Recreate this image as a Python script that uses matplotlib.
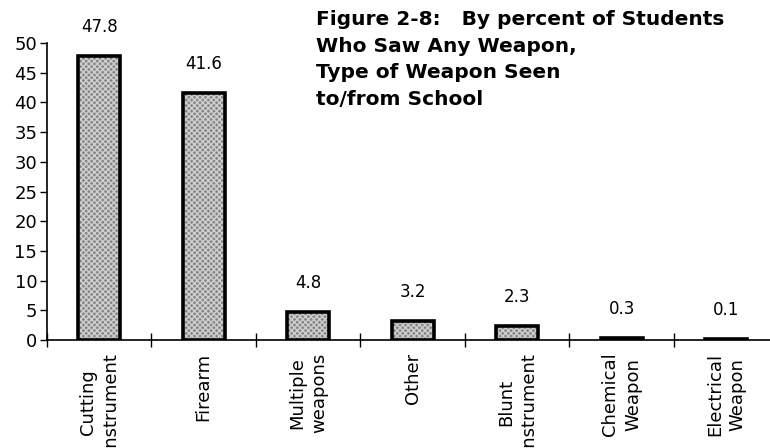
import numpy as np
import matplotlib.pyplot as plt

plt.rcParams['font.family'] = ['DejaVu Sans']

# Data
categories = ["Cutting\nInstrument", "Firearm", "Multiple\nweapons", "Other",
              "Blunt\nInstrument", "Chemical\nWeapon", "Electrical\nWeapon"]
values = [47.8, 41.6, 4.8, 3.2, 2.3, 0.3, 0.1]
value_labels = ["47.8", "41.6", "4.8", "3.2", "2.3", "0.3", "0.1"]
yticks = [0, 5, 10, 15, 20, 25, 30, 35, 40, 45, 50]

x = np.arange(len(categories))

fig = plt.figure(figsize=(7.7, 4.48), dpi=100)
ax = fig.add_axes([0.061, 0.241, 0.95, 0.663])

# textured fill, then black outline on top
ax.bar(x, values, width=0.4, color='#858585', edgecolor='#d0d0d0',
       hatch='xxxxxx', linewidth=0, zorder=2)
ax.bar(x, values, width=0.4, fill=False, edgecolor='black', linewidth=2.6, zorder=3)

for xi, v, lab in zip(x, values, value_labels):
    ax.annotate(lab, (xi, v), xytext=(0, 20), textcoords='offset pixels',
                ha='center', va='bottom', fontsize=12)

ax.set_xlim(-0.5, len(categories) - 0.5)
ax.set_ylim(0, 50)
ax.set_yticks(yticks)
ax.tick_params(axis='y', labelsize=13, length=5, width=1, pad=2)

ax.set_xticks(x)
ax.set_xticklabels(categories, rotation=90, fontsize=13, va='top',
                   multialignment='center', linespacing=1.35)
ax.tick_params(axis='x', length=0, pad=9)
ax.set_xticks(np.arange(-0.5, len(categories)), minor=True)
ax.tick_params(axis='x', which='minor', direction='inout', length=10, width=1)

for s in ['top', 'right']:
    ax.spines[s].set_visible(False)
ax.spines['left'].set_linewidth(1.2)
ax.spines['bottom'].set_linewidth(1.2)

fig.text(0.411, 0.978, "Figure 2-8:   By percent of Students\nWho Saw Any Weapon,\n"
         "Type of Weapon Seen\nto/from School",
         ha='left', va='top', fontsize=14.5, fontweight='bold', linespacing=1.52)

fig.savefig("out.png", dpi=100)
